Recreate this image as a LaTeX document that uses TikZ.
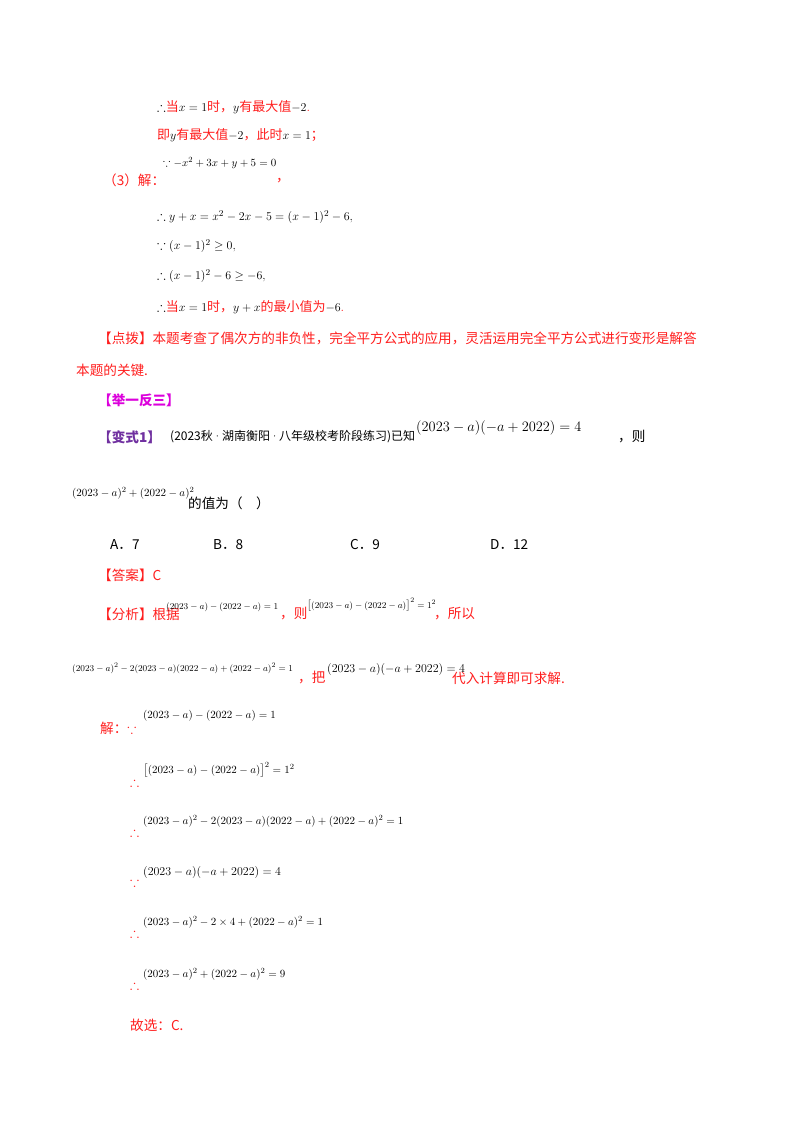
\documentclass[tikz,border=0pt]{standalone}
\usepackage{fontspec}
\usepackage{amsmath,amssymb}
\newfontfamily\cjk{Noto Sans CJK SC}
\definecolor{rd}{RGB}{255,30,30}
\definecolor{pp}{RGB}{112,48,160}
\definecolor{mg}{RGB}{220,0,220}
\begin{document}
\begin{tikzpicture}[x=1pt,y=-1pt,
  t/.style={anchor=west,inner sep=0pt,font=\cjk\fontsize{13.6}{16}\selectfont},
  r/.style={t,text=rd},
  m/.style={anchor=west,inner sep=0pt,font=\fontsize{13}{15}\selectfont},
  sm/.style={anchor=west,inner sep=0pt,font=\fontsize{11}{13}\selectfont},
  xs/.style={anchor=west,inner sep=0pt,font=\fontsize{9.3}{11}\selectfont}]
\useasboundingbox (0,0) rectangle (800,1132);
\fill[white] (0,0) rectangle (800,1132);
\node[m] (l1) at (157,107) {$\therefore$\textcolor{rd}{\cjk 当}$x=1$\textcolor{rd}{\cjk 时，}$y$\textcolor{rd}{\cjk 有最大值}$-2$\textcolor{rd}{.}};
\node[m] (l2) at (157,135) {\textcolor{rd}{\cjk 即}$y$\textcolor{rd}{\cjk 有最大值}$-2$\textcolor{rd}{\cjk ，此时}$x=1$\textcolor{rd}{\cjk ；}};
\node[r] (l3a) at (103,180) {（3）解：};
\node[sm] (l3b) at (163,163) {$\because -x^2+3x+y+5=0$};
\node[r] (l3c) at (276,181) {，};
\node[m] (l4) at (157,217) {$\therefore y+x=x^2-2x-5=(x-1)^2-6,$};
\node[m] (l5) at (157,246) {$\because (x-1)^2\ge 0,$};
\node[m] (l6) at (157,276) {$\therefore (x-1)^2-6\ge -6,$};
\node[m] (l7) at (157,307) {$\therefore$\textcolor{rd}{\cjk 当}$x=1$\textcolor{rd}{\cjk 时，}$y+x$\textcolor{rd}{\cjk 的最小值为}$-6$\textcolor{rd}{.}};
\node[r] (d1) at (98,338) {【点拨】本题考查了偶次方的非负性，完全平方公式的应用，灵活运用完全平方公式进行变形是解答};
\node[r] (d2) at (76,370) {本题的关键.};
\node[t,text=mg] (j) at (98,400) {\bfseries【举一反三】};
\node[t,text=pp] (b1) at (98,437) {\bfseries【变式1】};
\node[t,font=\cjk\fontsize{12}{14}\selectfont] (b2) at (170,437) {(2023秋{\rmfamily\textperiodcentered}湖南衡阳{\rmfamily\textperiodcentered}八年级校考阶段练习)已知};
\node[m,font=\fontsize{14.5}{16}\selectfont] (b3) at (416,428) {$(2023-a)(-a+2022)=4$};
\node[t] (b4) at (618,437) {，则};
\node[sm] (q1) at (72,493) {$(2023-a)^2+(2022-a)^2$};
\node[t] (q2) at (188,503) {的值为（\quad）};
\node[t] (oa) at (110,545) {A．7};
\node[t] (ob) at (213,545) {B．8};
\node[t] (oc) at (350,545) {C．9};
\node[t] (od) at (490,545) {D．12};
\node[r] (ans) at (98,575) {【答案】C};
\node[r] (f1) at (98,614) {【分析】根据};
\node[xs] (f2) at (166,607) {$(2023-a)-(2022-a)=1$};
\node[r] (f3) at (280,614) {，则};
\node[xs] (f4) at (307,605) {$\bigl[(2023-a)-(2022-a)\bigr]^2=1^2$};
\node[r] (f5) at (434,614) {，所以};
\node[xs] (g1) at (72,668) {$(2023-a)^2-2(2023-a)(2022-a)+(2022-a)^2=1$};
\node[r] (g2) at (298,678) {，把};
\node[m] (g3) at (327,669) {$(2023-a)(-a+2022)=4$};
\node[r] (g4) at (452,678) {代入计算即可求解.};
\node[r] (s0) at (100,728) {解：$\because$};
\node[sm] (s1) at (143,716) {$(2023-a)-(2022-a)=1$};
\node[r] (s2a) at (130,782) {$\therefore$};
\node[sm] (s2) at (143,770) {$\bigl[(2023-a)-(2022-a)\bigr]^2=1^2$};
\node[r] (s3a) at (130,832) {$\therefore$};
\node[sm] (s3) at (143,821) {$(2023-a)^2-2(2023-a)(2022-a)+(2022-a)^2=1$};
\node[r] (s4a) at (130,882) {$\because$};
\node[m] (s4) at (143,872) {$(2023-a)(-a+2022)=4$};
\node[r] (s5a) at (130,933) {$\therefore$};
\node[sm] (s5) at (143,922) {$(2023-a)^2-2\times4+(2022-a)^2=1$};
\node[r] (s6a) at (130,985) {$\therefore$};
\node[sm] (s6) at (143,974) {$(2023-a)^2+(2022-a)^2=9$};
\node[r] (s7) at (130,1025) {故选：C.};
\end{tikzpicture}
\end{document}
